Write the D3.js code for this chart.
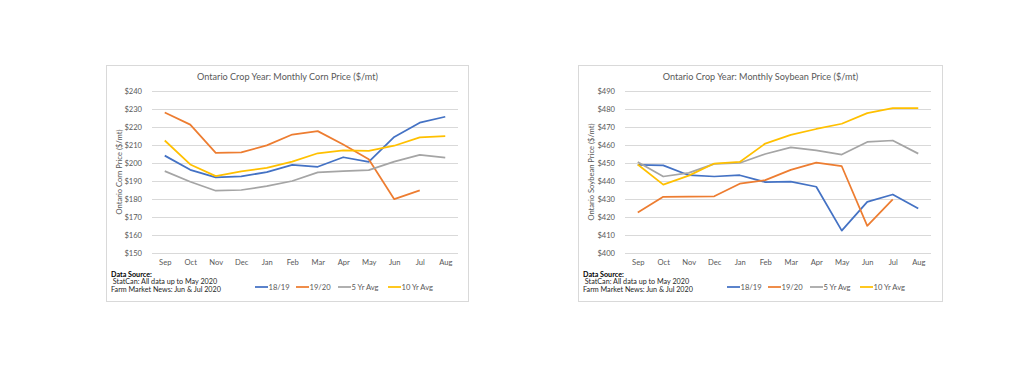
<!DOCTYPE html>
<html>
<head>
<meta charset="utf-8">
<script src="https://cdn.jsdelivr.net/npm/d3@7"></script>
<style>
  html, body { margin: 0; padding: 0; background: #ffffff; }
  svg { display: block; }
  text { font-family: Lato, "Open Sans", "Liberation Sans", sans-serif; }
</style>
</head>
<body>
<svg id="chart" width="1024" height="390"></svg>
<script>
// ---------- DATA ----------
const months = ["Sep","Oct","Nov","Dec","Jan","Feb","Mar","Apr","May","Jun","Jul","Aug"];
const seriesNames = ["18/19","19/20","5 Yr Avg","10 Yr Avg"];
const seriesColors = ["#4472C4","#ED7D31","#A5A5A5","#FFC000"];

const cornTicks = [150,160,170,180,190,200,210,220,230,240];
const corn1819 = [204.1,196.2,192.0,192.6,194.9,199.0,197.9,203.2,200.6,214.5,222.4,225.7];
const corn1920 = [228.1,221.3,205.6,205.9,209.8,215.8,217.7,210.3,202.1,179.9,184.8,null];
const corn5yr  = [195.5,189.6,184.6,185.0,187.1,190.0,194.8,195.5,196.0,200.8,204.5,203.0];
const corn10yr = [212.5,199.2,192.7,195.3,197.3,200.8,205.4,207.0,206.7,209.6,214.2,214.9];

const soyTicks = [400,410,420,430,440,450,460,470,480,490];
const soy1819 = [449.0,448.7,443.2,442.5,443.2,439.4,439.7,436.8,412.4,428.4,432.5,424.7];
const soy1920 = [422.5,431.2,431.3,431.5,438.5,440.5,446.2,450.2,448.2,415.1,429.8,null];
const soy5yr  = [450.5,442.5,444.5,449.5,450.0,455.0,458.7,457.0,454.7,461.7,462.5,455.2];
const soy10yr = [449.2,438.0,443.0,449.7,450.6,460.8,465.6,468.9,471.8,477.7,480.5,480.5];

const sourceLines = ["Data Source:", " StatCan: All data up to May 2020", "Farm Market News: Jun & Jul 2020"];

// ---------- DRAW ----------
const svg = d3.select("#chart");

function drawChart(cfg) {
  const g = svg.append("g");
  const bx = cfg.x, by = 65, bw = cfg.w, bh = 237;
  g.append("rect")
    .attr("x", bx + 0.5).attr("y", by + 0.5)
    .attr("width", bw - 1).attr("height", bh - 1)
    .attr("fill", "#fff").attr("stroke", "#D9D9D9").attr("stroke-width", 1);

  const left = bx + cfg.plotOffset, right = left + 306;
  const top = 91, bottom = 253;

  const x = d3.scalePoint().domain(months).range([left, right]).padding(0.5);
  const y = d3.scaleLinear().domain([cfg.ticks[0], cfg.ticks[cfg.ticks.length - 1]]).range([bottom, top]);

  // title
  g.append("text")
    .attr("x", bx + bw / 2).attr("y", 76)
    .attr("text-anchor", "middle").attr("dominant-baseline", "central")
    .attr("font-size", 9.1).attr("fill", "#595959")
    .text(cfg.title);

  // y axis with gridlines
  const yAxis = d3.axisLeft(y).tickValues(cfg.ticks).tickFormat(d => "$" + d)
    .tickSize(-(right - left)).tickPadding(10);
  const ya = g.append("g").attr("transform", `translate(${left},0)`).call(yAxis);
  ya.select(".domain").remove();
  ya.selectAll(".tick line").attr("stroke", "#D9D9D9").attr("stroke-width", 1);
  ya.selectAll(".tick text").attr("fill", "#595959").attr("font-size", 7.6)
    .attr("font-family", "Lato, 'Open Sans', sans-serif");

  // x axis labels
  const xAxis = d3.axisBottom(x).tickSize(0).tickPadding(0);
  const xa = g.append("g").attr("transform", `translate(0,${bottom + 7})`).call(xAxis);
  xa.select(".domain").remove();
  xa.selectAll(".tick text").attr("fill", "#595959").attr("font-size", 7.6)
    .attr("font-family", "Lato, 'Open Sans', sans-serif");

  // y title
  g.append("text")
    .attr("transform", `translate(${bx + 13},${(top + bottom) / 2}) rotate(-90)`)
    .attr("text-anchor", "middle").attr("dominant-baseline", "central")
    .attr("font-size", 7.6).attr("fill", "#595959")
    .text(cfg.yTitle);

  // lines
  const line = d3.line()
    .defined(d => d.v !== null)
    .x(d => x(d.m)).y(d => y(d.v));
  cfg.series.forEach((vals, i) => {
    const data = months.map((m, j) => ({ m, v: vals[j] }));
    g.append("path").datum(data)
      .attr("fill", "none").attr("stroke", seriesColors[i])
      .attr("stroke-width", 1.75).attr("stroke-linejoin", "round")
      .attr("d", line);
  });

  // data source
  sourceLines.forEach((s, i) => {
    g.append("text")
      .attr("x", bx + 5).attr("y", 274 + i * 7.8)
      .attr("dominant-baseline", "central")
      .attr("font-size", 7.2)
      .attr("font-weight", i === 0 ? "bold" : "normal")
      .attr("fill", i === 0 ? "#000" : "#262626")
      .attr("xml:space", "preserve")
      .style("white-space", "pre")
      .text(s);
  });

  // legend
  const legX = [0, 41, 83, 133];
  seriesNames.forEach((name, i) => {
    const lx = bx + cfg.legendOffset + legX[i];
    g.append("line")
      .attr("x1", lx).attr("x2", lx + 13)
      .attr("y1", 287).attr("y2", 287)
      .attr("stroke", seriesColors[i]).attr("stroke-width", 1.75);
    g.append("text")
      .attr("x", lx + 13.5).attr("y", 287)
      .attr("dominant-baseline", "central")
      .attr("font-size", 7.6).attr("fill", "#595959")
      .text(name);
  });
}

drawChart({
  x: 106, w: 363, plotOffset: 46, legendOffset: 149,
  title: "Ontario Crop Year: Monthly Corn Price ($/mt)",
  yTitle: "Ontario Corn Price ($/mt)",
  ticks: cornTicks,
  series: [corn1819, corn1920, corn5yr, corn10yr]
});
drawChart({
  x: 578, w: 365, plotOffset: 47, legendOffset: 149,
  title: "Ontario Crop Year: Monthly Soybean Price ($/mt)",
  yTitle: "Ontario Soybean Price ($/mt)",
  ticks: soyTicks,
  series: [soy1819, soy1920, soy5yr, soy10yr]
});
</script>
</body>
</html>
